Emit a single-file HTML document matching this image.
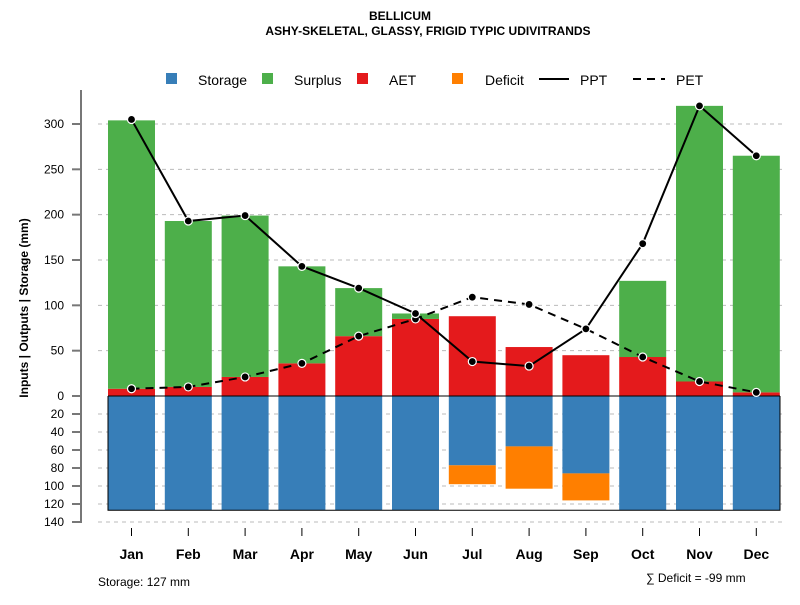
<!DOCTYPE html>
<html><head><meta charset="utf-8"><style>
body{margin:0;background:#fff}
svg{font-family:"Liberation Sans",Arial,sans-serif}
</style></head><body>
<svg id="c" width="800" height="600" xmlns="http://www.w3.org/2000/svg">
<text x="400" y="20" text-anchor="middle" font-size="12" font-weight="bold">BELLICUM</text>
<text x="428" y="35" text-anchor="middle" font-size="12" font-weight="bold">ASHY-SKELETAL, GLASSY, FRIGID TYPIC UDIVITRANDS</text>
<g id="grid"></g><g id="bars"></g><g id="lines"></g><g id="axes"></g>
<g font-size="14">
<rect x="166" y="73" width="11" height="11" fill="#377eb8"/>
<text x="198" y="85">Storage</text>
<rect x="262" y="73" width="11" height="11" fill="#4daf4a"/>
<text x="294" y="85">Surplus</text>
<rect x="357" y="73" width="11" height="11" fill="#e41a1c"/>
<text x="389" y="85">AET</text>
<rect x="452" y="73" width="11" height="11" fill="#ff7f00"/>
<text x="485" y="85">Deficit</text>
<line x1="539" y1="79" x2="569" y2="79" stroke="#000" stroke-width="2"/>
<text x="580" y="85">PPT</text>
<line x1="633" y1="79" x2="665" y2="79" stroke="#000" stroke-width="2" stroke-dasharray="8,6"/>
<text x="676" y="85">PET</text>
</g>
<text transform="translate(28,308) rotate(-90)" text-anchor="middle" font-size="12" font-weight="bold">Inputs | Outputs | Storage    (mm)</text>
<text x="98" y="586" font-size="12">Storage: 127 mm</text>
<text x="646" y="582" font-size="12">∑ Deficit = -99 mm</text>
</svg>
<script>
const months=["Jan","Feb","Mar","Apr","May","Jun","Jul","Aug","Sep","Oct","Nov","Dec"];
const ppt=[305,193,199,143,119,91,38,33,74,168,320,265];
const pet=[8,10,21,36,66,85,109,101,74,43,16,4];
const aet=[8,10,21,36,66,85,88,54,45,43,16,4];
const surplus=[296,183,178,107,53,6,0,0,0,84,304,261];
const storage=[127,127,127,127,127,127,77,56,86,127,127,127];
const deficit=[0,0,0,0,0,0,21,47,30,0,0,0];
const upTicks=[50,100,150,200,250,300];
const downTicks=[0,20,40,60,80,100,120,140];
const NS="http://www.w3.org/2000/svg";
const y0=396;
function yUp(v){return y0-v*0.9067;}
function yDn(v){return y0+v*0.9;}
function xc(i){return 131.5+i*56.8;}
const bw=47;
function mk(p,t,a){const e=document.createElementNS(NS,t);for(const k in a)e.setAttribute(k,a[k]);document.getElementById(p).appendChild(e);return e;}
upTicks.forEach(v=>{const l=mk("grid","line",{x1:98,x2:782,y1:yUp(v),y2:yUp(v),stroke:"#bbb","stroke-dasharray":"4,4"});

});
downTicks.forEach(v=>{if(v===0)return;const l=mk("grid","line",{x1:98,x2:782,y1:yDn(v),y2:yDn(v),stroke:"#bbb","stroke-dasharray":"4,4"});

});
months.forEach((m,i)=>{
const x=xc(i)-bw/2;
let r=mk("bars","rect",{x:x,y:yUp(aet[i]),width:bw,height:y0-yUp(aet[i]),fill:"#e41a1c"});


if(surplus[i]>0){r=mk("bars","rect",{x:x,y:yUp(aet[i]+surplus[i]),width:bw,height:yUp(aet[i])-yUp(aet[i]+surplus[i]),fill:"#4daf4a"});

}
r=mk("bars","rect",{x:x,y:y0,width:bw,height:yDn(storage[i])-y0,fill:"#377eb8"});


if(deficit[i]>0){r=mk("bars","rect",{x:x,y:yDn(storage[i]),width:bw,height:yDn(storage[i]+deficit[i])-yDn(storage[i]),fill:"#ff7f00"});

}
});
let zl=mk("bars","line",{x1:108,x2:780,y1:y0,y2:y0,stroke:"#000","stroke-width":1});


let ol=mk("bars","path",{d:`M108,${y0}V${yDn(127)}H780V${y0}`,fill:"none",stroke:"#000","stroke-width":1});


function series(arr,name,dash){
const p=mk("lines","polyline",{points:arr.map((v,i)=>xc(i)+","+yUp(v)).join(" "),fill:"none",stroke:"#000","stroke-width":2,"stroke-dasharray":dash});


arr.forEach((v,i)=>{const c=mk("lines","circle",{cx:xc(i),cy:yUp(v),r:4,fill:"#000",stroke:"#fff","stroke-width":1.2});

});
}
series(pet,"pet","8,6");
series(ppt,"ppt","none");
let ax=mk("axes","line",{x1:81,x2:81,y1:90,y2:523,stroke:"#777","stroke-width":2});


upTicks.concat([0]).forEach(v=>{
const t=mk("axes","line",{x1:72,x2:81,y1:yUp(v),y2:yUp(v),stroke:"#777","stroke-width":2});


const l=mk("axes","text",{x:64,y:yUp(v)+4,"text-anchor":"end","font-size":12});l.textContent=v;

});
downTicks.forEach(v=>{if(v===0)return;
const t=mk("axes","line",{x1:72,x2:81,y1:yDn(v),y2:yDn(v),stroke:"#777","stroke-width":2});


const l=mk("axes","text",{x:64,y:yDn(v)+4,"text-anchor":"end","font-size":12});l.textContent=v;

});
months.forEach((m,i)=>{
const t=mk("axes","line",{x1:xc(i),x2:xc(i),y1:528,y2:536,stroke:"#000"});


const l=mk("axes","text",{x:xc(i),y:559,"text-anchor":"middle","font-size":14,"font-weight":"bold"});l.textContent=m;

});
</script>
</body></html>
